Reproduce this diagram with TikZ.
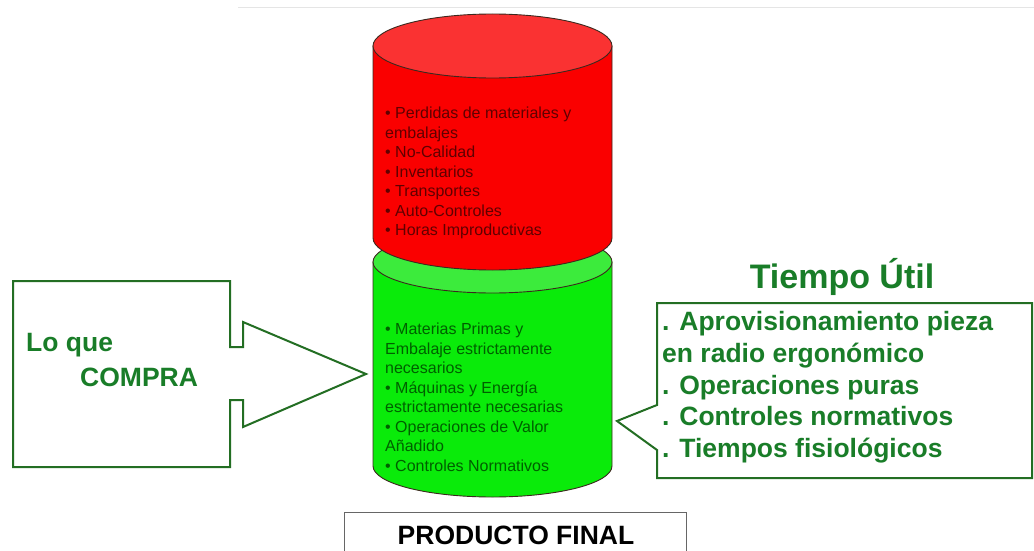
\documentclass[tikz,border=0pt]{standalone}
\usepackage{fontspec}
\setmainfont{Liberation Sans}
\definecolor{redbody}{RGB}{250,0,0}
\definecolor{redtop}{RGB}{250,50,50}
\definecolor{greenbody}{RGB}{10,235,10}
\definecolor{greentop}{RGB}{60,235,60}
\definecolor{redtext}{RGB}{95,0,0}
\definecolor{greentext}{RGB}{0,95,0}
\definecolor{callline}{RGB}{35,110,35}
\definecolor{calltext}{RGB}{25,125,40}
\definecolor{edge}{RGB}{60,40,30}
\newcommand\listbul{•\ }
\tikzset{
  cylbody/.style={draw=edge, line width=0.9pt},
  listtext/.style={anchor=north west, inner sep=0pt, align=left,
    font=\fontsize{16}{19.5}\selectfont},
  callout/.style={draw=callline, line width=2pt, fill=white, line join=miter},
  bigtext/.style={inner sep=0pt, font=\fontsize{26.5}{32}\selectfont\bfseries, text=calltext},
}
\begin{document}
\begin{tikzpicture}[x=1pt,y=-1pt]
\useasboundingbox (0,0) rectangle (1034,551);
\fill[white] (0,0) rectangle (1034,551);
% faint rule along the top
\draw[black!10, line width=1pt] (238,8) -- (1034,8);

% lower (green) cylinder
\coordinate (gtop) at (492.5,262);
\coordinate (gbot) at (492.5,466);
\filldraw[cylbody, fill=greenbody] (373,262) -- (373,466)
  arc[start angle=180, end angle=0, x radius=119.5, y radius=31] -- (612,262) -- cycle;
\filldraw[cylbody, fill=greentop] (gtop) ellipse[x radius=119.5, y radius=31];

% upper (red) cylinder
\coordinate (rtop) at (492.5,46);
\coordinate (rbot) at (492.5,238);
\filldraw[cylbody, fill=redbody] (373,46) -- (373,238)
  arc[start angle=180, end angle=0, x radius=119.5, y radius=32] -- (612,46) -- cycle;
\filldraw[cylbody, fill=redtop] (rtop) ellipse[x radius=119.5, y radius=32];

% cylinder contents
\node[listtext, text=redtext] (waste) at (385,107) {%
  \listbul Perdidas de materiales y\\
  embalajes\\
  \listbul No-Calidad\\
  \listbul Inventarios\\
  \listbul Transportes\\
  \listbul Auto-Controles\\
  \listbul Horas Improductivas};
\node[listtext, text=greentext] (value) at (385,323) {%
  \listbul Materias Primas y\\
  Embalaje estrictamente\\
  necesarios\\
  \listbul Máquinas y Energía\\
  estrictamente necesarias\\
  \listbul Operaciones de Valor\\
  Añadido\\
  \listbul Controles Normativos};

% left arrow callout
\draw[callout] (13,281) -- (230,281) -- (230,347) -- (243,347) -- (243,322)
  -- (366,374) coordinate (buytip) -- (243,427) -- (243,400) -- (230,400)
  -- (230,467) -- (13,467) -- cycle;
\node[bigtext, anchor=west] (buy1) at (26,345) {Lo que};
\node[bigtext, anchor=west] (buy2) at (80,377) {COMPRA};

% right speech callout
\node[inner sep=0pt, font=\fontsize{34}{40}\selectfont\bfseries, text=calltext]
  (useful) at (842,277) {Tiempo Útil};
\draw[callout] (657,303) -- (1032,303) -- (1032,478) -- (657,478) -- (657,450)
  -- (617,421) coordinate (usetip) -- (657,405) -- cycle;
\node[bigtext, anchor=north west, align=left, font=\fontsize{26.5}{31.8}\selectfont\bfseries]
  (uselist) at (662,311) {%
  . Aprovisionamiento pieza\\
  en radio ergonómico\\
  . Operaciones puras\\
  . Controles normativos\\
  . Tiempos fisiológicos};

% final product box
\draw[black!60, line width=1pt] (344,560) -- (344,512) -- (686,512) -- (686,560);
\node[inner sep=0pt, font=\fontsize{26.5}{32}\selectfont\bfseries] (product) at (516,535) {PRODUCTO FINAL};
\end{tikzpicture}
\end{document}
